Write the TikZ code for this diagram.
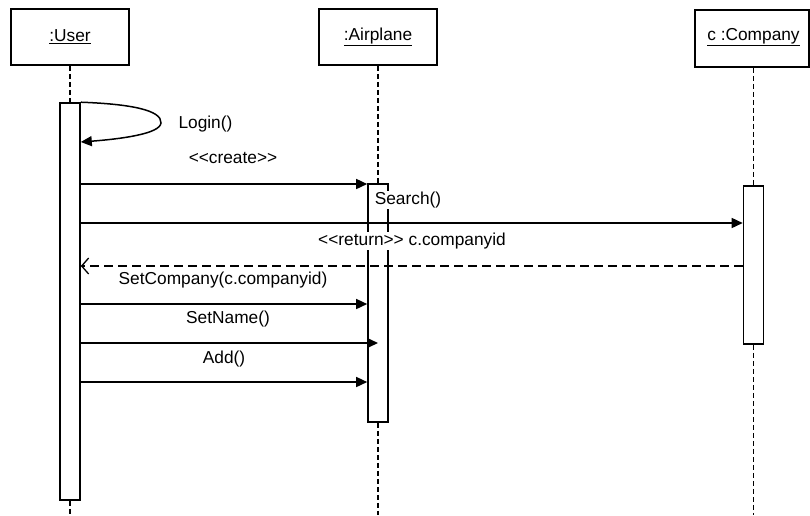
\documentclass[tikz,border=0pt]{standalone}
\usepackage{fontspec}
\setmainfont{Liberation Sans}
\usetikzlibrary{arrows.meta}
\newcommand{\stOpen}{\textless\kern0pt\textless}
\newcommand{\stClose}{\textgreater\kern0pt\textgreater}
\begin{document}
\begin{tikzpicture}[x=1pt,y=-1pt,
  every node/.style={font=\fontsize{17.3}{20}\selectfont},
  headbox/.style={draw, line width=1.6pt, minimum width=118pt, minimum height=56pt, inner sep=0pt},
  actbox/.style={draw, fill=white, line width=1.6pt, minimum width=20pt, inner sep=0pt},
  lifeline/.style={line width=1.9pt, dash pattern=on 5pt off 3pt},
  msg/.style={line width=1.5pt, -{Triangle[length=11pt,width=10pt]}},
  reply/.style={line width=1.5pt, dash pattern=on 9pt off 5pt, -{Straight Barb[length=7pt,width=16pt,line width=1.3pt]}},
  msglabel/.style={fill=white, inner sep=1pt}]
\useasboundingbox (0,0) rectangle (810,515);

% object heads
\node[headbox] (headU) at (70,37)    {\underline{:User}};
\node[headbox] (headA) at (378,37)   {\underline{:Airplane}};
\node[headbox, minimum width=114pt, minimum height=57pt, anchor=west] (headC) at (694,38.5) {};
\node (nameC) at (753.5,37) {\underline{c :Company}};

% activation bars
\node[actbox, minimum height=397pt] (actU) at (70,301.5)  {};
\node[actbox, minimum height=238pt] (actA) at (378,303)   {};
\node[actbox, minimum height=158pt] (actC) at (753.5,265) {};

% lifeline ends
\coordinate (endU) at (70,515);
\coordinate (endA) at (378,515);
\coordinate (endC) at (753.5,515);

% lifelines
\draw[lifeline] (headU.south) -- (actU.north);
\draw[lifeline] (actU.south) -- (endU);
\draw[lifeline] (headA.south) -- (actA.north);
\draw[lifeline] (actA.south) -- (endA);
\draw[lifeline] (actC |- headC.south) -- (actC.north);
\draw[lifeline] (actC.south) -- (endC);

% message rows
\coordinate (r0) at (0,142);
\coordinate (r1) at (0,184);
\coordinate (r2) at (0,223);
\coordinate (r3) at (0,266);
\coordinate (r4) at (0,304);
\coordinate (r5) at (0,343);
\coordinate (r6) at (0,382);
\coordinate (loopTip) at (161,123);

% self call
\draw[msg] (actU.north east) .. controls (130,104) and (162,110) .. (loopTip)
  .. controls (160,134) and (120,139) .. (actU.east |- r0);

% calls and reply
\draw[msg] (actU.east |- r1) -- (actA.west |- r1);
\draw[msg] (actU.east |- r2) -- (actC.west |- r2);
\draw[reply] (actC.west |- r3) -- (actU.east |- r3);
\draw[msg] (actU.east |- r4) -- (actA.west |- r4);
\draw[msg] (actU.east |- r5) -- (actA.center |- r5);
\draw[msg] (actU.east |- r6) -- (actA.west |- r6);

% message labels
\node[anchor=west] (lLogin) at (175,124) {Login()};
\node (lCreate) at (233,158) {\stOpen create\stClose};
\node[msglabel] (lSearch) at (408,200) {Search()};
\node[msglabel] (lReturn) at (412,241) {\stOpen return\stClose{} c.companyid};
\node (lSetCo) at (223,280) {SetCompany(c.companyid)};
\node (lSetName) at (228,319) {SetName()};
\node (lAdd) at (224,359) {Add()};
\end{tikzpicture}
\end{document}
